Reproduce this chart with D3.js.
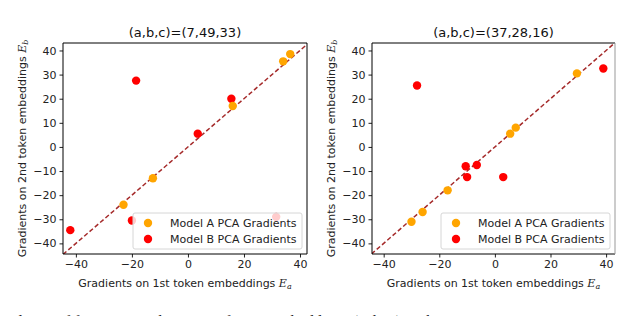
<!DOCTYPE html>
<html>
  <head>
    <meta charset="utf-8" />
    <script src="https://d3js.org/d3.v7.min.js"></script>
    <style>
      body { margin: 0; background: white; }
      svg { display: block; font-family: 'DejaVu Sans', sans-serif; }
    </style>
  </head>
  <body>
    <div id="chart"></div>
    <script>
      // panel titles
      var titles = ['(a,b,c)=(7,49,33)', '(a,b,c)=(37,28,16)'];

      // axis limits
      var xLimits = [[-44.6, 42.5], [-44.2, 43.2]];
      var yLimits = [[-44.4, 43.1], [-44.4, 43.1]];

      var xTicks = [-40, -20, 0, 20, 40];
      var yTicks = [-40, -30, -20, -10, 0, 10, 20, 30, 40];

      // Model A PCA gradients, [Ea, Eb]
      var modelA1 = [[36.5, 38.5], [34, 35.5], [16, 17], [-12.5, -13], [-23, -24]];
      var modelA2 = [[29.5, 30.5], [7.5, 8], [5.5, 5.5], [-17, -18], [-26, -27], [-30, -31]];

      // Model B PCA gradients, [Ea, Eb]
      var modelB1 = [[-18.5, 27.5], [15.5, 20], [3.5, 5.5], [-20, -30.5], [-42, -34.5], [31.5, -29]];
      var modelB2 = [[39, 32.5], [-28, 25.5], [-10.5, -8], [-6.5, -7.5], [-10, -12.5], [3, -12.5]];

      var seriesNames = ['Model A PCA Gradients', 'Model B PCA Gradients'];
      var colors = ['orange', 'red'];

      var svg = d3.select('#chart')
        .append('svg')
        .attr('width', 640)
        .attr('height', 316);

      var panels = [
        { left: 63, right: 307, a: modelA1, b: modelB1, spineRight: 'black' },
        { left: 372, right: 615, a: modelA2, b: modelB2, spineRight: '#999' },
      ];
      var plotTop = 43, plotBottom = 254;

      var minus = (d) => (d < 0 ? '\u2212' + Math.abs(d) : d);

      panels.forEach(function (p, i) {
        var x = d3.scaleLinear().domain(xLimits[i]).range([p.left, p.right]);
        var y = d3.scaleLinear().domain(yLimits[i]).range([plotBottom, plotTop]);

        var g = svg.append('g');

        // clip for marks
        svg.append('clipPath')
          .attr('id', 'clip' + i)
          .append('rect')
          .attr('x', p.left).attr('y', plotTop)
          .attr('width', p.right - p.left).attr('height', plotBottom - plotTop);

        var plot = g.append('g').attr('clip-path', 'url(#clip' + i + ')');

        // y = x reference line
        var lo = Math.min(xLimits[i][0], yLimits[i][0]);
        var hi = Math.max(xLimits[i][1], yLimits[i][1]);
        plot.append('line')
          .attr('x1', x(lo)).attr('y1', y(lo))
          .attr('x2', x(hi)).attr('y2', y(hi))
          .attr('stroke', '#a52a2a')
          .attr('stroke-width', 1.5)
          .attr('stroke-dasharray', '4.5,2.5');

        plot.selectAll('.ptB')
          .data(p.b)
          .join('circle')
          .attr('cx', (d) => x(d[0]))
          .attr('cy', (d) => y(d[1]))
          .attr('r', 4.2)
          .attr('fill', colors[1]);

        plot.selectAll('.ptA')
          .data(p.a)
          .join('circle')
          .attr('cx', (d) => x(d[0]))
          .attr('cy', (d) => y(d[1]))
          .attr('r', 4.2)
          .attr('fill', colors[0]);

        // axes
        var xAxis = g.append('g')
          .attr('transform', 'translate(0,' + plotBottom + ')')
          .call(d3.axisBottom(x).tickValues(xTicks).tickSize(3.5).tickPadding(3).tickFormat(minus));
        var yAxis = g.append('g')
          .attr('transform', 'translate(' + p.left + ',0)')
          .call(d3.axisLeft(y).tickValues(yTicks).tickSize(3.5).tickPadding(3).tickFormat(minus));
        [xAxis, yAxis].forEach(function (ax) {
          ax.select('.domain').remove();
          ax.selectAll('text').attr('font-size', 11).attr('fill', '#222').attr('font-family', 'DejaVu Sans');
          ax.selectAll('line').attr('stroke', '#222');
        });

        // spines
        g.append('line').attr('x1', p.left).attr('x2', p.right).attr('y1', plotTop).attr('y2', plotTop).attr('stroke', 'black');
        g.append('line').attr('x1', p.left).attr('x2', p.right).attr('y1', plotBottom).attr('y2', plotBottom).attr('stroke', 'black');
        g.append('line').attr('x1', p.left).attr('x2', p.left).attr('y1', plotTop).attr('y2', plotBottom).attr('stroke', 'black');
        g.append('line').attr('x1', p.right).attr('x2', p.right).attr('y1', plotTop).attr('y2', plotBottom).attr('stroke', p.spineRight);

        // title
        g.append('text')
          .attr('x', (p.left + p.right) / 2)
          .attr('y', 37)
          .attr('text-anchor', 'middle')
          .attr('font-size', 13)
          .attr('fill', '#111')
          .text(titles[i]);

        // x label
        var xl = g.append('text')
          .attr('x', (p.left + p.right) / 2)
          .attr('y', 287)
          .attr('text-anchor', 'middle')
          .attr('font-size', 11)
          .attr('fill', '#222');
        xl.append('tspan').text('Gradients on 1st token embeddings ');
        xl.append('tspan').attr('font-style', 'italic').attr('font-family', 'DejaVu Serif').text('E');
        xl.append('tspan').attr('font-style', 'italic').attr('font-family', 'DejaVu Serif').attr('font-size', 8).attr('dy', 2).text('a');

        // y label
        var yl = g.append('text')
          .attr('transform', 'translate(' + (p.left - 37) + ',' + (plotTop + plotBottom) / 2 + ') rotate(-90)')
          .attr('text-anchor', 'middle')
          .attr('font-size', 11)
          .attr('fill', '#222');
        yl.append('tspan').text('Gradients on 2nd token embeddings ');
        yl.append('tspan').attr('font-style', 'italic').attr('font-family', 'DejaVu Serif').text('E');
        yl.append('tspan').attr('font-style', 'italic').attr('font-family', 'DejaVu Serif').attr('font-size', 8).attr('dy', 2).text('b');

        // legend
        var lw = 169, lh = 36;
        var lx = p.right - 5 - lw, ly = plotBottom - 5 - lh;
        var leg = g.append('g');
        leg.append('rect')
          .attr('x', lx).attr('y', ly)
          .attr('width', lw).attr('height', lh)
          .attr('rx', 2)
          .attr('fill', 'white').attr('fill-opacity', 0.8)
          .attr('stroke', '#d6d6d6');
        seriesNames.forEach(function (name, k) {
          leg.append('circle')
            .attr('cx', lx + 15).attr('cy', ly + 10 + k * 16)
            .attr('r', 4.2).attr('fill', colors[k]);
          leg.append('text')
            .attr('x', lx + 37).attr('y', ly + 14 + k * 16)
            .attr('font-size', 11).attr('fill', '#222')
            .text(name);
        });
      });

      // caption cut off at the bottom of the picture
      svg.append('text')
        .attr('x', -6)
        .attr('y', 327)
        .attr('font-family', 'Liberation Serif')
        .attr('font-size', 16)
        .attr('fill', '#222')
        .text('gradients of functions in the space of input embeddings (a, b, c) in the');
    </script>
  </body>
</html>
